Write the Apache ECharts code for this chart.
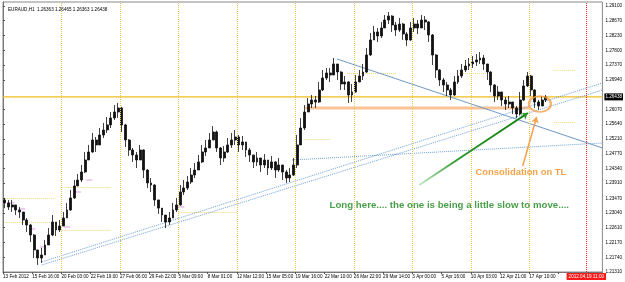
<!DOCTYPE html>
<html>
<head>
<meta charset="utf-8">
<title>EURAUD H1</title>
<script src="https://cdn.jsdelivr.net/npm/echarts@6/dist/echarts.min.js"></script>
<style>
html,body{margin:0;padding:0;background:#fff;}
#chart{width:625px;height:282px;}
</style>
</head>
<body>
<div id="chart"></div>
<script>
// price path, one bar ~ 8 hours
var firstOpen = 1.23420;
var closes = [1.23332,1.23214,1.23274,1.23126,1.23067,1.22833,1.22687,1.22394,1.21955,1.21720,
 1.21808,1.22101,1.22394,1.22774,1.22540,1.22657,1.22892,1.23126,1.23479,1.23829,
 1.24004,1.24239,1.24590,1.24825,1.25176,1.25031,1.25322,1.25469,1.25618,1.25820,
 1.25996,1.26113,1.25618,1.25176,1.24883,1.24737,1.24590,1.24883,1.24297,1.23917,
 1.23858,1.23420,1.23181,1.22979,1.22774,1.22892,1.23126,1.23274,1.23653,1.23770,
 1.23946,1.24151,1.24297,1.24533,1.24825,1.24943,1.25176,1.25410,1.24943,1.24649,
 1.24825,1.25031,1.25176,1.25264,1.25031,1.25118,1.24883,1.24737,1.24533,1.24649,
 1.24444,1.24590,1.24356,1.24533,1.24297,1.24444,1.24239,1.24063,1.24151,1.24444,
 1.25031,1.25527,1.25996,1.26230,1.26347,1.26289,1.26640,1.26992,1.27138,1.27079,
 1.27402,1.27167,1.26816,1.26875,1.26494,1.26582,1.26875,1.27050,1.27167,1.27665,
 1.28105,1.28339,1.28222,1.28456,1.28690,1.28807,1.28544,1.28397,1.28573,1.28280,
 1.28105,1.28456,1.28573,1.28456,1.28690,1.28632,1.28251,1.27665,1.27226,1.26933,
 1.26787,1.26640,1.26494,1.26875,1.27050,1.27226,1.27343,1.27402,1.27460,1.27519,
 1.27577,1.27402,1.27167,1.26787,1.26465,1.26582,1.26347,1.26230,1.26289,1.26113,
 1.25937,1.26347,1.26758,1.27050,1.26640,1.26289,1.26172,1.26347,1.26438];
var highs = [1.23479,1.23420,1.23420,1.23274,1.23214,1.23067,1.22892,1.22720,1.22420,1.21955,
 1.22013,1.22248,1.22599,1.22979,1.22774,1.22833,1.23067,1.23332,1.23712,1.24004,
 1.24180,1.24444,1.24825,1.25031,1.25381,1.25264,1.25527,1.25674,1.25850,1.25996,
 1.26201,1.26260,1.26150,1.25650,1.25200,1.24943,1.24825,1.25031,1.24900,1.24320,
 1.24063,1.23880,1.23420,1.23181,1.22979,1.23067,1.23332,1.23479,1.23858,1.24004,
 1.24121,1.24356,1.24502,1.24737,1.25031,1.25176,1.25381,1.25586,1.25450,1.24970,
 1.25000,1.25235,1.25381,1.25469,1.25322,1.25293,1.25118,1.24943,1.24737,1.24825,
 1.24649,1.24766,1.24590,1.24708,1.24560,1.24649,1.24444,1.24297,1.24356,1.24649,
 1.25322,1.25820,1.26201,1.26406,1.26494,1.26465,1.26875,1.27226,1.27285,1.27285,
 1.27577,1.27402,1.27190,1.27050,1.26900,1.26816,1.27079,1.27226,1.27402,1.27871,
 1.28310,1.28515,1.28456,1.28632,1.28837,1.28925,1.28830,1.28632,1.28749,1.28600,
 1.28339,1.28632,1.28749,1.28690,1.28837,1.28807,1.28660,1.28280,1.27690,1.27250,
 1.26992,1.26875,1.26699,1.27050,1.27226,1.27402,1.27519,1.27577,1.27636,1.27695,
 1.27753,1.27665,1.27402,1.27190,1.26810,1.26758,1.26582,1.26435,1.26465,1.26289,
 1.26172,1.26582,1.26933,1.27167,1.27080,1.26660,1.26347,1.26465,1.26494];
var lows = [1.23181,1.23126,1.23067,1.22979,1.22892,1.22687,1.22482,1.22190,1.21720,1.21516,
 1.21574,1.21808,1.22101,1.22360,1.22365,1.22482,1.22657,1.22892,1.23100,1.23450,
 1.23829,1.23946,1.24210,1.24590,1.24800,1.24825,1.25031,1.25235,1.25381,1.25527,
 1.25762,1.25820,1.25410,1.24971,1.24708,1.24533,1.24356,1.24590,1.24063,1.23770,
 1.23653,1.23245,1.23009,1.22774,1.22599,1.22687,1.22892,1.23067,1.23250,1.23566,
 1.23712,1.23887,1.24063,1.24297,1.24500,1.24708,1.24943,1.25176,1.24825,1.24444,
 1.24533,1.24795,1.24943,1.25031,1.24825,1.24883,1.24678,1.24533,1.24356,1.24415,
 1.24239,1.24356,1.24151,1.24297,1.24063,1.24239,1.24004,1.23917,1.23946,1.24121,
 1.24356,1.25031,1.25469,1.25996,1.26113,1.26113,1.26260,1.26610,1.26933,1.26875,
 1.27079,1.26933,1.26640,1.26640,1.26260,1.26289,1.26560,1.26875,1.26933,1.27140,
 1.27640,1.28105,1.28046,1.28163,1.28456,1.28573,1.28339,1.28222,1.28339,1.28105,
 1.27929,1.28080,1.28339,1.28280,1.28456,1.28397,1.28046,1.27372,1.26992,1.26758,
 1.26582,1.26465,1.26347,1.26470,1.26816,1.26992,1.27167,1.27226,1.27285,1.27343,
 1.27402,1.27226,1.26933,1.26582,1.26289,1.26347,1.26172,1.26055,1.26113,1.25937,
 1.25820,1.25900,1.26320,1.26730,1.26465,1.26113,1.26055,1.26172,1.26289];

var timeLabels = ['13 Feb 2012','15 Feb 16:00','20 Feb 03:00','22 Feb 19:00','27 Feb 06:00',
  '29 Feb 22:00','5 Mar 09:00','8 Mar 01:00','12 Mar 12:00','15 Mar 05:00','19 Mar 16:00',
  '22 Mar 10:00','26 Mar 22:00','29 Mar 14:00','3 Apr 00:00','5 Apr 16:00','10 Apr 03:00',
  '12 Apr 21:00','17 Apr 10:00'];
var priceTicks = [1.21310,1.21740,1.22170,1.22610,1.23040,1.23470,1.23910,1.24340,1.24770,
  1.25210,1.25640,1.26070,1.26940,1.27370,1.27800,1.28230,1.28670,1.29100];
var header = ['EURAUD,H1', 1.26363, 1.26465, 1.26363, 1.26438];
var bid = 1.26438;
var cursorTime = '2012.04.19 11:00';
var cursorPos = 159.6;
var gridX = [16, 32, 48, 64, 80, 96, 112, 128, 144];

// indicator levels: [from, to, price] and small markers [bar position, price]
var levelSegs = [[0.5, 14.1, 1.23478], [0.5, 14.1, 1.22775], [16, 29.6, 1.23799], [16, 29.6, 1.22540],
  [48, 63.6, 1.23067], [82.2, 89.5, 1.25205], [94.1, 107.7, 1.27138], [124.8, 132.2, 1.27138],
  [150.7, 156.7, 1.27226], [150.7, 156.7, 1.25703]];
var dashMarks = [[2.3, 1.23332], [5.2, 1.23156], [8, 1.22570], [10.9, 1.22043], [17.5, 1.22628],
  [20.5, 1.23653], [23.6, 1.24004], [48.8, 1.23215]];

// drawn objects, [bar position, price]
var tlSolid = [[91.4, 1.27548], [164, 1.24943]];
var tlDot1 = [[10.6, 1.21603], [164, 1.26845]];
var tlDot2 = [[10.6, 1.21515], [164, 1.26640]];
var tlDot3 = [[79.1, 1.24590], [164, 1.25088]];
var rangeLine = [[82.7, 1.26113], [143.9, 1.26113]];
var bidLine = [[0, bid], [164, bid]];
var greenArrow = [[113.9, 1.23858], [143.6, 1.25967]];
var orangeArrow = [[142.2, 1.24415], [146.0, 1.25850]];
var circlePt = [146.9, 1.26230];
var noteOrange = [141.7, 1.24239];
var noteGreen = [122.1, 1.23272];

var nCats = 164;
var cats = [];
for (var i = 0; i < nCats; i++) cats.push(String(i));
var candles = closes.map(function (c, i) {
  var o = i === 0 ? firstOpen : closes[i - 1];
  return [o, c, lows[i], highs[i]];
});

var font = 'Liberation Sans';
var chart = echarts.init(document.getElementById('chart'));

function trend(data, color, type, width) {
  return {
    type: 'line', xAxisIndex: 1, data: data, symbol: 'none', silent: true,
    lineStyle: {color: color, type: type, width: width}, z: 3
  };
}

var option = {
  animation: false,
  backgroundColor: '#fff',
  title: {
    text: header[0] + '  ' + header.slice(1).map(function (v) { return v.toFixed(5); }).join(' '),
    left: 3, top: 2,
    textStyle: {fontSize: 4.6, fontWeight: 'normal', color: '#000', fontFamily: font}
  },
  grid: {left: 1, right: 21, top: 2, bottom: 10, show: true, borderColor: '#888', borderWidth: 1},
  xAxis: [
    {type: 'category', data: cats, show: false, boundaryGap: true},
    {
      type: 'value', min: 0, max: nCats, interval: 8, position: 'bottom',
      axisLine: {show: true, onZero: false, lineStyle: {color: '#777'}},
      axisTick: {show: true, length: 2, lineStyle: {color: '#555'}},
      axisLabel: {
        formatter: function (v) { return timeLabels[v / 8] || ''; },
        align: 'left', fontSize: 4.6, margin: 2, color: '#000', fontFamily: font,
        showMaxLabel: false
      },
      splitLine: {show: false}
    }
  ],
  yAxis: {
    type: 'value', position: 'right', min: 1.21310, max: 1.29217,
    axisLine: {show: true, lineStyle: {color: '#777'}},
    axisTick: {show: true, length: 2, customValues: priceTicks, lineStyle: {color: '#555'}},
    axisLabel: {
      customValues: priceTicks,
      formatter: function (v) { return v.toFixed(5); },
      fontSize: 4.6, margin: 3, color: '#000', fontFamily: font
    },
    splitLine: {show: false}
  },
  series: [
    {
      type: 'lines', coordinateSystem: 'cartesian2d', xAxisIndex: 1, z: 2, silent: true,
      data: levelSegs.map(function (s) { return {coords: [[s[0], s[2]], [s[1], s[2]]]}; }),
      lineStyle: {color: '#efd67a', type: 'dotted', width: 1, opacity: 1}
    },
    {
      type: 'scatter', xAxisIndex: 1, z: 2, silent: true, data: dashMarks,
      symbol: 'rect', symbolSize: [6, 1], itemStyle: {color: '#d77ee6'}
    },
    // bid level, drawn as a plain line so it stays yellow
    trend(bidLine, '#f0bd20', 'solid', 1.3),
    {
      type: 'line', xAxisIndex: 1, data: rangeLine, symbol: 'none', silent: true, z: 3,
      lineStyle: {color: 'rgba(247,175,115,0.75)', width: 3},
      markLine: {
        symbol: 'none', silent: true, animation: false, precision: 6,
        data: [
          {yAxis: bid, lineStyle: {color: 'rgba(0,0,0,0)', width: 0},
            label: {show: true, position: 'end', distance: 2, formatter: bid.toFixed(5),
              backgroundColor: '#000', color: '#fff', fontSize: 4.6, padding: [1, 1], fontFamily: font}},
          {xAxis: cursorPos, lineStyle: {color: '#ff2020', type: 'dotted', width: 1},
            label: {show: true, position: 'start', distance: 1, formatter: cursorTime,
              backgroundColor: '#ff1a1a', color: '#fff', fontSize: 4.6, padding: [1, 2], fontFamily: font}}
        ].concat(gridX.map(function (v) {
          return {xAxis: v, lineStyle: {color: '#e6c85a', type: 'dotted', width: 1}, label: {show: false}};
        }))
      }
    },
    {
      type: 'candlestick', xAxisIndex: 0, data: candles, barWidth: 2.4, z: 4,
      itemStyle: {color: '#111', color0: '#111', borderColor: '#111', borderColor0: '#111', borderWidth: 0.8}
    },
    trend(tlSolid, '#6f99c9', 'solid', 1),
    trend(tlDot1, '#6f9fd6', 'dotted', 1),
    trend(tlDot2, '#6f9fd6', 'dotted', 1),
    trend(tlDot3, '#6f9fd6', 'dotted', 1),
    {
      type: 'lines', coordinateSystem: 'cartesian2d', xAxisIndex: 1, z: 6, silent: true,
      symbol: ['none', 'arrow'], symbolSize: 6,
      data: [
        {coords: greenArrow, lineStyle: {
          color: new echarts.graphic.LinearGradient(0, 1, 1, 0, [
            {offset: 0, color: '#d2ecd2'}, {offset: 0.35, color: '#2f9a2f'}, {offset: 1, color: '#0b7a0b'}
          ]), width: 2, opacity: 1}},
        {coords: orangeArrow, lineStyle: {color: '#f5a04c', width: 1.5, opacity: 1}}
      ]
    },
    {
      type: 'scatter', xAxisIndex: 1, z: 6, silent: true, data: [circlePt],
      symbol: 'circle', symbolSize: [22, 16],
      itemStyle: {color: 'rgba(255,255,255,0)', borderColor: '#f5a04c', borderWidth: 2}
    },
    {
      type: 'scatter', xAxisIndex: 1, z: 7, silent: true, symbolSize: 0,
      data: [
        {value: noteOrange, label: {formatter: 'Consolidation on TL', color: '#f28c1c', fontSize: 9.4}},
        {value: noteGreen, label: {formatter: 'Long here.... the one is being a little slow to move....', color: '#1c871c', fontSize: 9.7}}
      ],
      label: {show: true, position: 'inside', fontWeight: 'bold', fontFamily: font}
    }
  ]
};
chart.setOption(option);
</script>
</body>
</html>
